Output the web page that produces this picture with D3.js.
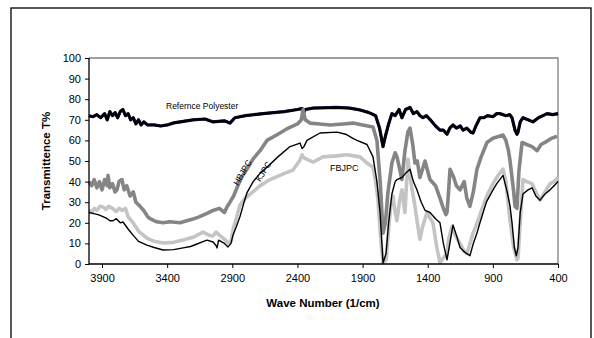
<!DOCTYPE html>
<html>
<head>
<meta charset="utf-8">
<script src="https://cdn.jsdelivr.net/npm/d3@7"></script>
<style>
  html, body { margin: 0; padding: 0; background: #fff; }
  svg { display: block; font-family: "Liberation Sans", Arial, sans-serif; }
</style>
</head>
<body>
<svg id="chart" width="594" height="338"></svg>
<script>
// ---- data (wave number 1/cm, transmittance %) ----
const yTicks = [0, 10, 20, 30, 40, 50, 60, 70, 80, 90, 100];
const xTicks = [3900, 3400, 2900, 2400, 1900, 1400, 900, 400];

const refPolyester = [
  [4000,72],[3970,71.5],[3940,72.5],[3910,71],[3880,73],[3860,70],[3840,74],[3820,72],[3800,73.5],
  [3780,71],[3760,74],[3740,75],[3720,72],[3700,73],[3680,70],[3660,71],[3640,68],[3620,70],
  [3600,67.5],[3580,69],[3550,67.5],[3500,67.5],[3450,67],[3400,67.5],[3350,68.5],[3300,69],
  [3200,70],[3110,70.4],[3050,69],[2960,69.5],[2918,68.4],[2880,71],[2800,72],[2664,73],
  [2500,74],[2400,75],[2365,75.5],[2357,73],[2340,75],[2280,75.7],[2100,76],[2000,75.7],
  [1920,74.8],[1850,73.5],[1800,72],[1770,66],[1743,57],[1725,62],[1700,68],[1675,73],
  [1650,72],[1620,75],[1598,71],[1570,75],[1536,76],[1510,73],[1483,74],[1460,72],[1436,71],
  [1410,72],[1380,70],[1340,67],[1306,65],[1280,65],[1252,63],[1230,66],[1206,67.5],[1180,66],
  [1150,67],[1129,65],[1100,66],[1070,64],[1052,63.6],[1030,67],[999,71],[970,71],[940,72],
  [900,71.5],[870,73],[845,73],[800,72],[770,72.5],[753,71],[730,65],[715,63],[707,64],
  [690,69],[669,71],[630,70],[592,69],[550,71],[500,72.5],[484,73],[440,72.5],[400,73]
];

const hbjpc = [
  [4000,40],[3980,38],[3960,41],[3940,37],[3920,40],[3900,36],[3880,41],[3860,38],[3854,43],
  [3840,37],[3820,39],[3800,35],[3785,36],[3770,40],[3747,41],[3730,36],[3710,38],[3685,33],
  [3660,35],[3640,30],[3608,28],[3580,26],[3550,23],[3532,22],[3480,20.5],[3432,20],[3380,20.5],
  [3301,20],[3250,21],[3202,21.8],[3150,23],[3094,24.6],[3048,26],[3000,27],[2960,25],[2941,27.7],
  [2918,30],[2890,33],[2864,37],[2830,42],[2788,46],[2740,51],[2687,55],[2634,60],[2550,63],
  [2470,66],[2400,68],[2370,70],[2357,75],[2340,70],[2304,68.4],[2230,68],[2150,67.5],[2050,68],
  [1974,68.4],[1900,67.5],[1820,66.5],[1790,60],[1765,40],[1743,15],[1725,20],[1705,35],[1675,49],
  [1650,54],[1636,52],[1615,46],[1598,41],[1575,55],[1552,64],[1536,66],[1515,58],[1498,49],
  [1480,50],[1460,42],[1440,46],[1421,50],[1400,45],[1383,41],[1340,38],[1306,32],[1280,27],
  [1260,24],[1252,25],[1240,35],[1229,46],[1200,42],[1180,38],[1152,36],[1120,40],[1100,32],
  [1076,28],[1050,35],[1022,46],[990,52],[945,59],[900,61],[850,62],[822,62.6],[800,60],[780,55],
  [768,50],[740,35],[730,28],[715,27],[700,45],[676,59],[640,58],[600,57],[561,55],[530,58],
  [500,59],[450,61],[408,62]
];

const kjpc = [
  [4000,25],[3970,24.6],[3930,24],[3893,23],[3860,22],[3840,21],[3816,21],[3790,22],[3760,20],
  [3739,20.4],[3700,17],[3662,14],[3620,11],[3555,9.2],[3500,8],[3432,6.8],[3350,7],[3278,7.8],
  [3220,8.5],[3171,9.7],[3120,11],[3094,11.6],[3048,10.7],[3025,9],[3017,7.8],[3005,11.6],
  [2960,10],[2933,8.3],[2910,10],[2895,14],[2870,18],[2841,23],[2810,30],[2788,34.5],[2740,40],
  [2687,44],[2634,47],[2550,52],[2457,57],[2380,58.7],[2365,56],[2350,57],[2327,60],[2227,63.6],
  [2096,64],[2030,63],[1974,61],[1943,60],[1866,58],[1820,52],[1790,40],[1766,25],[1743,0.5],
  [1720,5],[1700,20],[1675,34],[1650,40],[1636,41],[1598,42],[1570,44],[1536,46],[1510,40],
  [1483,36],[1450,30],[1420,26],[1383,25],[1340,22],[1306,20],[1280,10],[1252,2],[1230,10],
  [1206,19],[1180,14],[1152,8],[1120,6],[1099,5],[1076,4],[1050,10],[1022,15],[999,20],[950,30],
  [899,36],[870,39],[822,43],[790,35],[768,28],[753,20],[735,8],[720,4],[707,8],[690,25],
  [669,34],[630,36],[599,37],[570,33],[538,31],[500,34],[461,36],[430,38],[400,40]
];

const fbjpc = [
  [4000,26],[3980,25],[3960,27],[3940,26],[3916,28],[3893,27.7],[3870,26.5],[3850,28],[3820,27],
  [3790,25.5],[3770,27],[3745,26],[3720,27],[3700,23],[3662,20],[3620,16],[3555,12.6],[3500,11],
  [3432,10.2],[3350,10.5],[3278,11.6],[3200,13],[3125,15.5],[3080,14],[3048,13.6],[3025,15.5],
  [3000,14],[2960,12],[2933,10.2],[2910,11],[2895,16.5],[2870,22],[2841,28.6],[2800,32],
  [2741,35],[2687,38],[2610,41],[2500,44],[2434,45.6],[2380,50.5],[2365,53],[2350,51.5],
  [2280,49.5],[2204,52],[2100,52.5],[2020,53],[1920,52],[1866,49],[1820,47],[1800,40],[1782,31],
  [1760,12],[1743,0.5],[1720,2],[1705,13],[1685,28],[1667,33],[1650,25],[1636,21],[1618,30],
  [1598,36],[1575,25],[1552,51],[1530,40],[1498,28],[1480,20],[1460,12],[1440,18],[1406,25],
  [1380,22],[1360,20],[1330,8],[1306,0.5],[1280,3],[1252,5],[1240,12],[1214,18],[1190,14],
  [1152,10],[1120,6],[1099,5],[1076,10],[1052,15],[1020,20],[976,28],[940,34],[899,39],[860,43],
  [822,46],[800,40],[768,21],[740,8],[715,2],[707,3],[690,20],[669,41],[640,40],[599,39],
  [570,35],[538,31],[500,35],[461,39],[430,40],[400,42]
];

// ---- layout ----
const svg = d3.select("#chart");
const L = 89, R = 558, T = 58, B = 264;
const x = d3.scaleLinear().domain([4000, 400]).range([L, R]);
const y = d3.scaleLinear().domain([0, 100]).range([B, T]);

// outer frame
svg.append("rect").attr("x", 11).attr("y", 8).attr("width", 580).attr("height", 345)
  .attr("fill", "none").attr("stroke", "#000").attr("stroke-width", 1.3);

// plot border (top/right gray)
svg.append("path")
  .attr("d", `M${L},${T}H${R}V${B}`)
  .attr("fill", "none").attr("stroke", "#808080").attr("stroke-width", 1.3);

const line = d3.line().x(d => x(d[0])).y(d => y(d[1]));
const g = svg.append("g");

// reference polyester: thin navy edge under black
g.append("path").datum(refPolyester).attr("d", line)
  .attr("fill", "none").attr("stroke", "#202070").attr("stroke-width", 3.2).attr("stroke-linejoin", "round");
g.append("path").datum(refPolyester).attr("d", line)
  .attr("fill", "none").attr("stroke", "#000").attr("stroke-width", 2.6).attr("stroke-linejoin", "round");

g.append("path").datum(fbjpc).attr("d", line)
  .attr("fill", "none").attr("stroke", "#c4c4c4").attr("stroke-width", 3.6).attr("stroke-linejoin", "round");

g.append("path").datum(hbjpc).attr("d", line)
  .attr("fill", "none").attr("stroke", "#858585").attr("stroke-width", 3.6).attr("stroke-linejoin", "round");

g.append("path").datum(kjpc).attr("d", line)
  .attr("fill", "none").attr("stroke", "#000").attr("stroke-width", 1.4).attr("stroke-linejoin", "round");

// axes
const yAxis = d3.axisLeft(y).tickValues(yTicks).tickSize(4).tickPadding(4).tickFormat(d3.format("d"));
const xAxis = d3.axisBottom(x).tickValues(xTicks).tickSize(4).tickPadding(6).tickFormat(d3.format("d"));

const ya = svg.append("g").attr("transform", `translate(${L},0)`).call(yAxis);
const xa = svg.append("g").attr("transform", `translate(0,${B})`).call(xAxis);
[ya, xa].forEach(a => {
  a.select(".domain").attr("stroke", "#000").attr("stroke-width", 1.3);
  a.selectAll(".tick line").attr("stroke", "#000");
  a.selectAll(".tick text").attr("font-size", 11).attr("fill", "#000")
    .attr("font-family", "'Liberation Sans', Arial, sans-serif");
});
xa.select(".domain").attr("d", `M${L},0H${R}`);
ya.select(".domain").attr("d", `M0,${T}V${B}`);

// axis titles
svg.append("text").attr("x", 323).attr("y", 307).attr("text-anchor", "middle")
  .attr("font-size", 11.5).attr("font-weight", "bold").text("Wave Number (1/cm)");
svg.append("text").attr("transform", "translate(50,161) rotate(-90)").attr("text-anchor", "middle")
  .attr("font-size", 11.5).attr("font-weight", "bold").text("Transmittence T%");

// series labels
svg.append("text").attr("x", 166).attr("y", 109).attr("font-size", 8.5).text("Refernce Polyester");
svg.append("text").attr("x", 330).attr("y", 171).attr("font-size", 9).text("FBJPC");
svg.append("text").attr("transform", "translate(245,174) rotate(-60)").attr("text-anchor", "middle")
  .attr("font-size", 8.5).text("HBJPC");
svg.append("text").attr("transform", "translate(266,173) rotate(-58)").attr("text-anchor", "middle")
  .attr("font-size", 8.5).text("KJPC");
</script>
</body>
</html>
